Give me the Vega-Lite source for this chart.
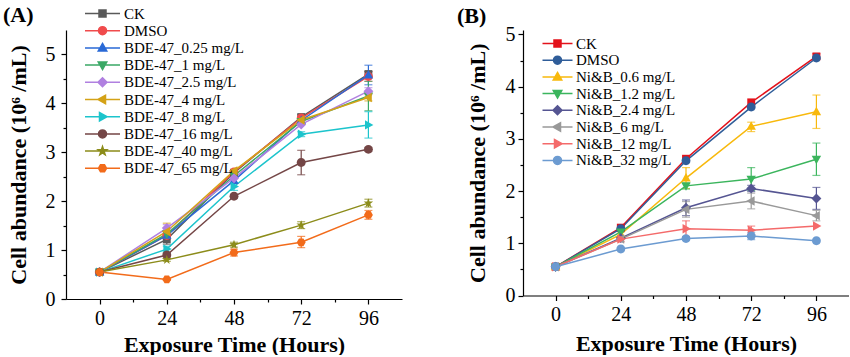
{
  "$schema": "https://vega.github.io/schema/vega-lite/v6.json",
  "background": "white",
  "padding": {"left": 2, "top": 4, "right": 0, "bottom": 0},
  "bounds": "flush",
  "spacing": 121,
  "resolve": {"scale": {"color": "independent", "fill": "independent", "stroke": "independent", "shape": "independent"}},
  "config": {
    "view": {"stroke": null},
    "font": "Liberation Serif",
    "axis": {"domainColor": "black", "tickColor": "black", "labelColor": "black", "titleColor": "black", "grid": false, "labelFont": "Liberation Serif", "titleFont": "Liberation Serif", "labelFontSize": 20, "titleFontSize": 22, "titleFontWeight": "bold", "domainWidth": 1.2, "tickWidth": 1.2, "tickSize": 5},
    "title": {"font": "Liberation Serif", "fontSize": 22, "fontWeight": "bold", "anchor": "start", "color": "black"},
    "legend": {"labelFont": "Liberation Serif", "labelColor": "black", "labelFontSize": 15, "padding": 0}
  },
  "datasets": {
    "A": [
      {"series": "CK", "t": 0, "v": 0.55}, {"series": "CK", "t": 24, "v": 1.22}, {"series": "CK", "t": 48, "v": 2.58}, {"series": "CK", "t": 72, "v": 3.72}, {"series": "CK", "t": 96, "v": 4.6},
      {"series": "DMSO", "t": 0, "v": 0.55}, {"series": "DMSO", "t": 24, "v": 1.3}, {"series": "DMSO", "t": 48, "v": 2.6}, {"series": "DMSO", "t": 72, "v": 3.7}, {"series": "DMSO", "t": 96, "v": 4.55},
      {"series": "BDE-47_0.25 mg/L", "t": 0, "v": 0.55}, {"series": "BDE-47_0.25 mg/L", "t": 24, "v": 1.3}, {"series": "BDE-47_0.25 mg/L", "t": 48, "v": 2.42}, {"series": "BDE-47_0.25 mg/L", "t": 72, "v": 3.65}, {"series": "BDE-47_0.25 mg/L", "t": 96, "v": 4.58},
      {"series": "BDE-47_1 mg/L", "t": 0, "v": 0.55}, {"series": "BDE-47_1 mg/L", "t": 24, "v": 1.33}, {"series": "BDE-47_1 mg/L", "t": 48, "v": 2.52}, {"series": "BDE-47_1 mg/L", "t": 72, "v": 3.63}, {"series": "BDE-47_1 mg/L", "t": 96, "v": 4.15},
      {"series": "BDE-47_2.5 mg/L", "t": 0, "v": 0.55}, {"series": "BDE-47_2.5 mg/L", "t": 24, "v": 1.45}, {"series": "BDE-47_2.5 mg/L", "t": 48, "v": 2.47}, {"series": "BDE-47_2.5 mg/L", "t": 72, "v": 3.57}, {"series": "BDE-47_2.5 mg/L", "t": 96, "v": 4.25},
      {"series": "BDE-47_4 mg/L", "t": 0, "v": 0.55}, {"series": "BDE-47_4 mg/L", "t": 24, "v": 1.38}, {"series": "BDE-47_4 mg/L", "t": 48, "v": 2.62}, {"series": "BDE-47_4 mg/L", "t": 72, "v": 3.66}, {"series": "BDE-47_4 mg/L", "t": 96, "v": 4.12},
      {"series": "BDE-47_8 mg/L", "t": 0, "v": 0.55}, {"series": "BDE-47_8 mg/L", "t": 24, "v": 1.02}, {"series": "BDE-47_8 mg/L", "t": 48, "v": 2.3}, {"series": "BDE-47_8 mg/L", "t": 72, "v": 3.37}, {"series": "BDE-47_8 mg/L", "t": 96, "v": 3.56},
      {"series": "BDE-47_16 mg/L", "t": 0, "v": 0.55}, {"series": "BDE-47_16 mg/L", "t": 24, "v": 0.9}, {"series": "BDE-47_16 mg/L", "t": 48, "v": 2.1}, {"series": "BDE-47_16 mg/L", "t": 72, "v": 2.79}, {"series": "BDE-47_16 mg/L", "t": 96, "v": 3.06},
      {"series": "BDE-47_40 mg/L", "t": 0, "v": 0.55}, {"series": "BDE-47_40 mg/L", "t": 24, "v": 0.8}, {"series": "BDE-47_40 mg/L", "t": 48, "v": 1.11}, {"series": "BDE-47_40 mg/L", "t": 72, "v": 1.51}, {"series": "BDE-47_40 mg/L", "t": 96, "v": 1.96},
      {"series": "BDE-47_65 mg/L", "t": 0, "v": 0.55}, {"series": "BDE-47_65 mg/L", "t": 24, "v": 0.4}, {"series": "BDE-47_65 mg/L", "t": 48, "v": 0.95}, {"series": "BDE-47_65 mg/L", "t": 72, "v": 1.16}, {"series": "BDE-47_65 mg/L", "t": 96, "v": 1.72}
    ],
    "Aerr": [
      {"series": "CK", "t": 24, "lo": 1.12, "hi": 1.32}, {"series": "CK", "t": 48, "lo": 2.53, "hi": 2.63}, {"series": "CK", "t": 72, "lo": 3.67, "hi": 3.77}, {"series": "CK", "t": 96, "lo": 4.55, "hi": 4.65},
      {"series": "DMSO", "t": 24, "lo": 1.22, "hi": 1.38}, {"series": "DMSO", "t": 96, "lo": 4.45, "hi": 4.65},
      {"series": "BDE-47_0.25 mg/L", "t": 24, "lo": 1.24, "hi": 1.36}, {"series": "BDE-47_0.25 mg/L", "t": 96, "lo": 4.38, "hi": 4.78},
      {"series": "BDE-47_1 mg/L", "t": 96, "lo": 3.85, "hi": 4.45},
      {"series": "BDE-47_2.5 mg/L", "t": 24, "lo": 1.38, "hi": 1.52}, {"series": "BDE-47_2.5 mg/L", "t": 96, "lo": 4.18, "hi": 4.32},
      {"series": "BDE-47_4 mg/L", "t": 24, "lo": 1.25, "hi": 1.55}, {"series": "BDE-47_4 mg/L", "t": 48, "lo": 2.55, "hi": 2.65}, {"series": "BDE-47_4 mg/L", "t": 96, "lo": 4.05, "hi": 4.2},
      {"series": "BDE-47_8 mg/L", "t": 24, "lo": 0.96, "hi": 1.08}, {"series": "BDE-47_8 mg/L", "t": 48, "lo": 2.22, "hi": 2.38}, {"series": "BDE-47_8 mg/L", "t": 72, "lo": 3.32, "hi": 3.42}, {"series": "BDE-47_8 mg/L", "t": 96, "lo": 3.29, "hi": 3.83},
      {"series": "BDE-47_16 mg/L", "t": 24, "lo": 0.86, "hi": 0.94}, {"series": "BDE-47_16 mg/L", "t": 48, "lo": 2.06, "hi": 2.14}, {"series": "BDE-47_16 mg/L", "t": 72, "lo": 2.54, "hi": 3.04}, {"series": "BDE-47_16 mg/L", "t": 96, "lo": 3.02, "hi": 3.1},
      {"series": "BDE-47_40 mg/L", "t": 24, "lo": 0.77, "hi": 0.83}, {"series": "BDE-47_40 mg/L", "t": 48, "lo": 1.06, "hi": 1.16}, {"series": "BDE-47_40 mg/L", "t": 72, "lo": 1.44, "hi": 1.58}, {"series": "BDE-47_40 mg/L", "t": 96, "lo": 1.88, "hi": 2.04},
      {"series": "BDE-47_65 mg/L", "t": 24, "lo": 0.38, "hi": 0.42}, {"series": "BDE-47_65 mg/L", "t": 48, "lo": 0.88, "hi": 1.02}, {"series": "BDE-47_65 mg/L", "t": 72, "lo": 1.05, "hi": 1.28}, {"series": "BDE-47_65 mg/L", "t": 96, "lo": 1.63, "hi": 1.81}
    ],
    "B": [
      {"series": "CK", "t": 0, "v": 0.55}, {"series": "CK", "t": 24, "v": 1.3}, {"series": "CK", "t": 48, "v": 2.62}, {"series": "CK", "t": 72, "v": 3.7}, {"series": "CK", "t": 96, "v": 4.58},
      {"series": "DMSO", "t": 0, "v": 0.55}, {"series": "DMSO", "t": 24, "v": 1.28}, {"series": "DMSO", "t": 48, "v": 2.58}, {"series": "DMSO", "t": 72, "v": 3.61}, {"series": "DMSO", "t": 96, "v": 4.55},
      {"series": "Ni&B_0.6 mg/L", "t": 0, "v": 0.55}, {"series": "Ni&B_0.6 mg/L", "t": 24, "v": 1.17}, {"series": "Ni&B_0.6 mg/L", "t": 48, "v": 2.25}, {"series": "Ni&B_0.6 mg/L", "t": 72, "v": 3.24}, {"series": "Ni&B_0.6 mg/L", "t": 96, "v": 3.52},
      {"series": "Ni&B_1.2 mg/L", "t": 0, "v": 0.55}, {"series": "Ni&B_1.2 mg/L", "t": 24, "v": 1.22}, {"series": "Ni&B_1.2 mg/L", "t": 48, "v": 2.1}, {"series": "Ni&B_1.2 mg/L", "t": 72, "v": 2.23}, {"series": "Ni&B_1.2 mg/L", "t": 96, "v": 2.61},
      {"series": "Ni&B_2.4 mg/L", "t": 0, "v": 0.55}, {"series": "Ni&B_2.4 mg/L", "t": 24, "v": 1.1}, {"series": "Ni&B_2.4 mg/L", "t": 48, "v": 1.68}, {"series": "Ni&B_2.4 mg/L", "t": 72, "v": 2.05}, {"series": "Ni&B_2.4 mg/L", "t": 96, "v": 1.86},
      {"series": "Ni&B_6 mg/L", "t": 0, "v": 0.55}, {"series": "Ni&B_6 mg/L", "t": 24, "v": 1.08}, {"series": "Ni&B_6 mg/L", "t": 48, "v": 1.65}, {"series": "Ni&B_6 mg/L", "t": 72, "v": 1.81}, {"series": "Ni&B_6 mg/L", "t": 96, "v": 1.53},
      {"series": "Ni&B_12 mg/L", "t": 0, "v": 0.55}, {"series": "Ni&B_12 mg/L", "t": 24, "v": 1.08}, {"series": "Ni&B_12 mg/L", "t": 48, "v": 1.28}, {"series": "Ni&B_12 mg/L", "t": 72, "v": 1.25}, {"series": "Ni&B_12 mg/L", "t": 96, "v": 1.33},
      {"series": "Ni&B_32 mg/L", "t": 0, "v": 0.55}, {"series": "Ni&B_32 mg/L", "t": 24, "v": 0.89}, {"series": "Ni&B_32 mg/L", "t": 48, "v": 1.09}, {"series": "Ni&B_32 mg/L", "t": 72, "v": 1.14}, {"series": "Ni&B_32 mg/L", "t": 96, "v": 1.05}
    ],
    "Berr": [
      {"series": "CK", "t": 96, "lo": 4.53, "hi": 4.63},
      {"series": "Ni&B_0.6 mg/L", "t": 24, "lo": 1.12, "hi": 1.22}, {"series": "Ni&B_0.6 mg/L", "t": 48, "lo": 2.05, "hi": 2.45}, {"series": "Ni&B_0.6 mg/L", "t": 72, "lo": 3.14, "hi": 3.32}, {"series": "Ni&B_0.6 mg/L", "t": 96, "lo": 3.2, "hi": 3.84},
      {"series": "Ni&B_1.2 mg/L", "t": 48, "lo": 2.04, "hi": 2.16}, {"series": "Ni&B_1.2 mg/L", "t": 72, "lo": 2.01, "hi": 2.45}, {"series": "Ni&B_1.2 mg/L", "t": 96, "lo": 2.3, "hi": 2.92},
      {"series": "Ni&B_2.4 mg/L", "t": 48, "lo": 1.53, "hi": 1.83}, {"series": "Ni&B_2.4 mg/L", "t": 72, "lo": 1.99, "hi": 2.11}, {"series": "Ni&B_2.4 mg/L", "t": 96, "lo": 1.65, "hi": 2.07},
      {"series": "Ni&B_6 mg/L", "t": 48, "lo": 1.5, "hi": 1.8}, {"series": "Ni&B_6 mg/L", "t": 72, "lo": 1.66, "hi": 1.96}, {"series": "Ni&B_6 mg/L", "t": 96, "lo": 1.43, "hi": 1.63},
      {"series": "Ni&B_12 mg/L", "t": 24, "lo": 1.03, "hi": 1.13}, {"series": "Ni&B_12 mg/L", "t": 48, "lo": 1.13, "hi": 1.43}, {"series": "Ni&B_12 mg/L", "t": 72, "lo": 1.17, "hi": 1.33},
      {"series": "Ni&B_32 mg/L", "t": 48, "lo": 1.06, "hi": 1.12}, {"series": "Ni&B_32 mg/L", "t": 72, "lo": 1.07, "hi": 1.21}
    ]
  },
  "hconcat": [
    {
      "width": 336,
      "height": 269,
      "title": {"text": "(A)", "frame": "bounds", "dx": -4, "offset": -21},
      "layer": [
        {
          "data": {"name": "Aerr"},
          "mark": {"type": "errorbar", "ticks": {"size": 8}, "thickness": 1.2},
          "encoding": {
            "x": {"field": "t", "type": "quantitative", "scale": {"domain": [-12, 108], "nice": false, "zero": false}, "axis": null},
            "y": {"field": "lo", "type": "quantitative", "scale": {"domain": [0, 5.5], "nice": false}, "axis": null},
            "y2": {"field": "hi"},
            "color": {"field": "series", "type": "nominal", "legend": null,
              "scale": {"domain": ["CK", "DMSO", "BDE-47_0.25 mg/L", "BDE-47_1 mg/L", "BDE-47_2.5 mg/L", "BDE-47_4 mg/L", "BDE-47_8 mg/L", "BDE-47_16 mg/L", "BDE-47_40 mg/L", "BDE-47_65 mg/L"],
                "range": ["#595959", "#f04b4c", "#2a6ad6", "#3aa866", "#b080e0", "#d4a217", "#1cc4cc", "#744646", "#8c8c1a", "#f26b1a"]}}
          }
        },
        {
          "data": {"name": "A"},
          "mark": {"type": "line", "strokeWidth": 1.5},
          "encoding": {
            "x": {"field": "t", "type": "quantitative", "scale": {"domain": [-12, 108], "nice": false, "zero": false},
              "axis": {"orient": "bottom", "values": [12, 36, 60, 84], "labels": false, "domain": false, "tickSize": 3, "title": null}},
            "y": {"field": "v", "type": "quantitative", "scale": {"domain": [0, 5.5], "nice": false},
              "axis": {"orient": "left", "values": [0.5, 1.5, 2.5, 3.5, 4.5], "labels": false, "domain": false, "tickSize": 3, "title": null}},
            "color": {"field": "series", "type": "nominal", "legend": null}
          }
        },
        {
          "data": {"name": "A"},
          "mark": {"type": "point", "filled": true, "opacity": 1, "size": 110},
          "encoding": {
            "x": {"field": "t", "type": "quantitative",
              "axis": {"orient": "bottom", "values": [0, 24, 48, 72, 96], "title": "Exposure Time (Hours)", "labelPadding": 4, "titlePadding": 6}},
            "y": {"field": "v", "type": "quantitative",
              "axis": {"orient": "left", "values": [0, 1, 2, 3, 4, 5], "title": "Cell abundance (10⁶ /mL)", "labelPadding": 6, "titlePadding": 15}},
            "color": {"field": "series", "type": "nominal", "legend": null},
            "shape": {"field": "series", "type": "nominal", "legend": null,
              "scale": {"domain": ["CK", "DMSO", "BDE-47_0.25 mg/L", "BDE-47_1 mg/L", "BDE-47_2.5 mg/L", "BDE-47_4 mg/L", "BDE-47_8 mg/L", "BDE-47_16 mg/L", "BDE-47_40 mg/L", "BDE-47_65 mg/L"],
                "range": [
                  "M-0.75,-0.75H0.75V0.75H-0.75Z",
                  "M-0.85,0A0.85,0.85,0,1,1,0.85,0A0.85,0.85,0,1,1,-0.85,0Z",
                  "M0,-0.95L0.9,0.65H-0.9Z",
                  "M0,0.95L0.9,-0.65H-0.9Z",
                  "M0,-0.95L0.95,0L0,0.95L-0.95,0Z",
                  "M-0.95,0L0.65,-0.9V0.9Z",
                  "M0.95,0L-0.65,-0.9V0.9Z",
                  "M-0.85,0A0.85,0.85,0,1,1,0.85,0A0.85,0.85,0,1,1,-0.85,0Z",
                  "M0,-0.95L0.224,-0.307L0.904,-0.294L0.361,0.117L0.559,0.769L0,0.38L-0.559,0.769L-0.361,0.117L-0.904,-0.294L-0.224,-0.307Z",
                  "M0.85,0L0.425,0.736L-0.425,0.736L-0.85,0L-0.425,-0.736L0.425,-0.736Z"
                ]}}
          }
        },
        {
          "data": {"name": "A"},
          "mark": {"type": "point", "filled": true, "opacity": 0, "strokeWidth": 1.5},
          "encoding": {
            "x": {"field": "t", "type": "quantitative", "axis": null},
            "y": {"field": "v", "type": "quantitative", "axis": null},
            "fill": {"field": "series", "type": "nominal",
              "scale": {"domain": ["CK", "DMSO", "BDE-47_0.25 mg/L", "BDE-47_1 mg/L", "BDE-47_2.5 mg/L", "BDE-47_4 mg/L", "BDE-47_8 mg/L", "BDE-47_16 mg/L", "BDE-47_40 mg/L", "BDE-47_65 mg/L"],
                "range": ["#595959", "#f04b4c", "#2a6ad6", "#3aa866", "#b080e0", "#d4a217", "#1cc4cc", "#744646", "#8c8c1a", "#f26b1a"]},
              "legend": {"orient": "none", "legendX": 29, "legendY": -24, "title": null, "symbolSize": 100, "symbolStrokeWidth": 1.5, "symbolOpacity": 1, "labelOffset": 14, "rowPadding": 1.2}},
            "stroke": {"field": "series", "type": "nominal",
              "scale": {"domain": ["CK", "DMSO", "BDE-47_0.25 mg/L", "BDE-47_1 mg/L", "BDE-47_2.5 mg/L", "BDE-47_4 mg/L", "BDE-47_8 mg/L", "BDE-47_16 mg/L", "BDE-47_40 mg/L", "BDE-47_65 mg/L"],
                "range": ["#595959", "#f04b4c", "#2a6ad6", "#3aa866", "#b080e0", "#d4a217", "#1cc4cc", "#744646", "#8c8c1a", "#f26b1a"]},
              "legend": {"orient": "none", "legendX": 29, "legendY": -24, "title": null, "symbolSize": 100, "symbolStrokeWidth": 1.5, "symbolOpacity": 1, "labelOffset": 14, "rowPadding": 1.2}},
            "shape": {"field": "series", "type": "nominal",
              "scale": {"domain": ["CK", "DMSO", "BDE-47_0.25 mg/L", "BDE-47_1 mg/L", "BDE-47_2.5 mg/L", "BDE-47_4 mg/L", "BDE-47_8 mg/L", "BDE-47_16 mg/L", "BDE-47_40 mg/L", "BDE-47_65 mg/L"],
                "range": [
                  "M-3.5,0H3.5M-0.7,-0.7H0.7V0.7H-0.7Z",
                  "M-3.5,0H3.5M-0.8,0A0.8,0.8,0,1,1,0.8,0A0.8,0.8,0,1,1,-0.8,0Z",
                  "M-3.5,0H3.5M0,-0.9L0.85,0.6H-0.85Z",
                  "M-3.5,0H3.5M0,0.9L0.85,-0.6H-0.85Z",
                  "M-3.5,0H3.5M0,-0.9L0.9,0L0,0.9L-0.9,0Z",
                  "M-3.5,0H3.5M-0.9,0L0.6,-0.85V0.85Z",
                  "M-3.5,0H3.5M0.9,0L-0.6,-0.85V0.85Z",
                  "M-3.5,0H3.5M-0.8,0A0.8,0.8,0,1,1,0.8,0A0.8,0.8,0,1,1,-0.8,0Z",
                  "M-3.5,0H3.5M0,-0.9L0.212,-0.291L0.856,-0.278L0.342,0.111L0.529,0.728L0,0.36L-0.529,0.728L-0.342,0.111L-0.856,-0.278L-0.212,-0.291Z",
                  "M-3.5,0H3.5M0.8,0L0.4,0.69L-0.4,0.69L-0.8,0L-0.4,-0.69L0.4,-0.69Z"
                ]},
              "legend": {"orient": "none", "legendX": 29, "legendY": -24, "title": null, "symbolSize": 100, "symbolStrokeWidth": 1.5, "symbolOpacity": 1, "labelOffset": 14, "rowPadding": 1.2}}
          }
        }
      ],
      "resolve": {"axis": {"x": "independent", "y": "independent"}, "scale": {"shape": "independent", "fill": "independent", "stroke": "independent"}}
    },
    {
      "width": 326,
      "height": 265.5,
      "title": {"text": "(B)", "frame": "bounds", "dx": -9, "offset": -4},
      "layer": [
        {
          "data": {"name": "Berr"},
          "mark": {"type": "errorbar", "ticks": {"size": 8}, "thickness": 1.2},
          "encoding": {
            "x": {"field": "t", "type": "quantitative", "scale": {"domain": [-12, 108], "nice": false, "zero": false}, "axis": null},
            "y": {"field": "lo", "type": "quantitative", "scale": {"domain": [0, 5.086], "nice": false}, "axis": null},
            "y2": {"field": "hi"},
            "color": {"field": "series", "type": "nominal", "legend": null,
              "scale": {"domain": ["CK", "DMSO", "Ni&B_0.6 mg/L", "Ni&B_1.2 mg/L", "Ni&B_2.4 mg/L", "Ni&B_6 mg/L", "Ni&B_12 mg/L", "Ni&B_32 mg/L"],
                "range": ["#e3121b", "#2f5d99", "#f8b90c", "#3bb55d", "#555592", "#999999", "#f46a6a", "#6c9bd1"]}}
          }
        },
        {
          "data": {"name": "B"},
          "mark": {"type": "line", "strokeWidth": 1.5},
          "encoding": {
            "x": {"field": "t", "type": "quantitative", "scale": {"domain": [-12, 108], "nice": false, "zero": false},
              "axis": {"orient": "bottom", "values": [12, 36, 60, 84], "labels": false, "domain": false, "tickSize": 3, "title": null}},
            "y": {"field": "v", "type": "quantitative", "scale": {"domain": [0, 5.086], "nice": false},
              "axis": {"orient": "left", "values": [0.5, 1.5, 2.5, 3.5, 4.5], "labels": false, "domain": false, "tickSize": 3, "title": null}},
            "color": {"field": "series", "type": "nominal", "legend": null}
          }
        },
        {
          "data": {"name": "B"},
          "mark": {"type": "point", "filled": true, "opacity": 1, "size": 110},
          "encoding": {
            "x": {"field": "t", "type": "quantitative",
              "axis": {"orient": "bottom", "values": [0, 24, 48, 72, 96], "title": "Exposure Time (Hours)", "labelPadding": 4, "titlePadding": 9}},
            "y": {"field": "v", "type": "quantitative",
              "axis": {"orient": "left", "values": [0, 1, 2, 3, 4, 5], "title": "Cell abundance (10⁶ /mL)", "labelPadding": 3, "titlePadding": 16}},
            "color": {"field": "series", "type": "nominal", "legend": null},
            "shape": {"field": "series", "type": "nominal", "legend": null,
              "scale": {"domain": ["CK", "DMSO", "Ni&B_0.6 mg/L", "Ni&B_1.2 mg/L", "Ni&B_2.4 mg/L", "Ni&B_6 mg/L", "Ni&B_12 mg/L", "Ni&B_32 mg/L"],
                "range": [
                  "M-0.75,-0.75H0.75V0.75H-0.75Z",
                  "M-0.85,0A0.85,0.85,0,1,1,0.85,0A0.85,0.85,0,1,1,-0.85,0Z",
                  "M0,-0.95L0.9,0.65H-0.9Z",
                  "M0,0.95L0.9,-0.65H-0.9Z",
                  "M0,-0.95L0.95,0L0,0.95L-0.95,0Z",
                  "M-0.95,0L0.65,-0.9V0.9Z",
                  "M0.95,0L-0.65,-0.9V0.9Z",
                  "M-0.85,0A0.85,0.85,0,1,1,0.85,0A0.85,0.85,0,1,1,-0.85,0Z"
                ]}}
          }
        },
        {
          "data": {"name": "B"},
          "mark": {"type": "point", "filled": true, "opacity": 0, "strokeWidth": 1.5},
          "encoding": {
            "x": {"field": "t", "type": "quantitative", "axis": null},
            "y": {"field": "v", "type": "quantitative", "axis": null},
            "fill": {"field": "series", "type": "nominal",
              "scale": {"domain": ["CK", "DMSO", "Ni&B_0.6 mg/L", "Ni&B_1.2 mg/L", "Ni&B_2.4 mg/L", "Ni&B_6 mg/L", "Ni&B_12 mg/L", "Ni&B_32 mg/L"],
                "range": ["#e3121b", "#2f5d99", "#f8b90c", "#3bb55d", "#555592", "#999999", "#f46a6a", "#6c9bd1"]},
              "legend": {"orient": "none", "legendX": 27, "legendY": 6, "title": null, "symbolSize": 100, "symbolStrokeWidth": 1.5, "symbolOpacity": 1, "labelOffset": 11, "rowPadding": 0.7}},
            "stroke": {"field": "series", "type": "nominal",
              "scale": {"domain": ["CK", "DMSO", "Ni&B_0.6 mg/L", "Ni&B_1.2 mg/L", "Ni&B_2.4 mg/L", "Ni&B_6 mg/L", "Ni&B_12 mg/L", "Ni&B_32 mg/L"],
                "range": ["#e3121b", "#2f5d99", "#f8b90c", "#3bb55d", "#555592", "#999999", "#f46a6a", "#6c9bd1"]},
              "legend": {"orient": "none", "legendX": 27, "legendY": 6, "title": null, "symbolSize": 100, "symbolStrokeWidth": 1.5, "symbolOpacity": 1, "labelOffset": 11, "rowPadding": 0.7}},
            "shape": {"field": "series", "type": "nominal",
              "scale": {"domain": ["CK", "DMSO", "Ni&B_0.6 mg/L", "Ni&B_1.2 mg/L", "Ni&B_2.4 mg/L", "Ni&B_6 mg/L", "Ni&B_12 mg/L", "Ni&B_32 mg/L"],
                "range": [
                  "M-3,0H3M-0.7,-0.7H0.7V0.7H-0.7Z",
                  "M-3,0H3M-0.8,0A0.8,0.8,0,1,1,0.8,0A0.8,0.8,0,1,1,-0.8,0Z",
                  "M-3,0H3M0,-0.9L0.85,0.6H-0.85Z",
                  "M-3,0H3M0,0.9L0.85,-0.6H-0.85Z",
                  "M-3,0H3M0,-0.9L0.9,0L0,0.9L-0.9,0Z",
                  "M-3,0H3M-0.9,0L0.6,-0.85V0.85Z",
                  "M-3,0H3M0.9,0L-0.6,-0.85V0.85Z",
                  "M-3,0H3M-0.8,0A0.8,0.8,0,1,1,0.8,0A0.8,0.8,0,1,1,-0.8,0Z"
                ]},
              "legend": {"orient": "none", "legendX": 27, "legendY": 6, "title": null, "symbolSize": 100, "symbolStrokeWidth": 1.5, "symbolOpacity": 1, "labelOffset": 11, "rowPadding": 0.7}}
          }
        }
      ],
      "resolve": {"axis": {"x": "independent", "y": "independent"}, "scale": {"shape": "independent", "fill": "independent", "stroke": "independent"}}
    }
  ]
}
